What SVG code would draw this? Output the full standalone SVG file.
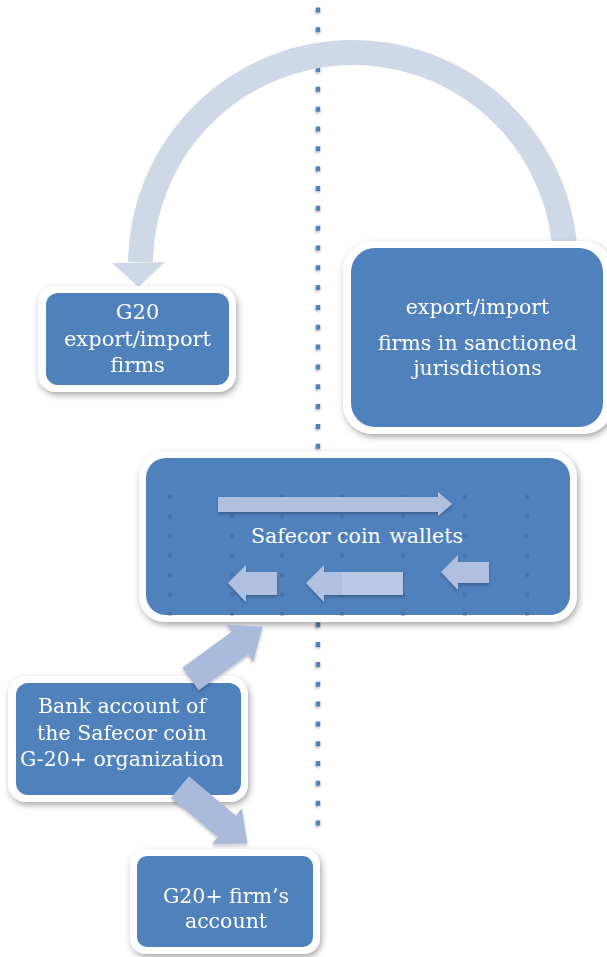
<svg xmlns="http://www.w3.org/2000/svg" width="607" height="957" viewBox="0 0 607 957">
  <defs>
    <filter id="boxShadow" filterUnits="userSpaceOnUse" x="0" y="0" width="607" height="957">
      <feDropShadow dx="1.5" dy="3" stdDeviation="3" flood-color="#000" flood-opacity="0.35"/>
    </filter>
    <filter id="dotShadow" filterUnits="userSpaceOnUse" x="0" y="0" width="607" height="957">
      <feDropShadow dx="-0.5" dy="1.5" stdDeviation="1" flood-color="#000" flood-opacity="0.3"/>
    </filter>
    <filter id="arrowShadow" filterUnits="userSpaceOnUse" x="0" y="0" width="607" height="957">
      <feDropShadow dx="0" dy="2" stdDeviation="1.5" flood-color="#000" flood-opacity="0.25"/>
    </filter>
  </defs>
  <style>
    .frame { fill: #ffffff; }
    .body { fill: #4F81BD; }
    .label { fill: #ffffff; font-family: "DejaVu Serif", "Liberation Serif", serif; font-size: 20.5px; text-anchor: middle; }
    .flow { fill: #A9BADA; }
    .inner { fill: #B0C0DE; }
    .grid { stroke: #2E5A90; stroke-opacity: 0.3; stroke-width: 4; stroke-dasharray: 4 15.5; }
  </style>

  <!-- dotted divider -->
  <line x1="318" y1="7.5" x2="318" y2="826" stroke="#4F81BD" stroke-width="4.5" stroke-dasharray="5 14.83" filter="url(#dotShadow)"/>

  <g id="connectors">
    <!-- big curved arrow from sanctioned firms to G20 firms -->
    <g id="arc-arrow" fill="#CFD8E7">
      <path d="M 564 250 L 564 240 A 212.5 212.5 0 0 0 140.5 262" fill="none" stroke="#CFD8E7" stroke-width="25"/>
      <polygon points="112,263 165,262 138.5,287"/>
    </g>
  </g>

  <g id="node-g20" filter="url(#boxShadow)">
    <rect class="frame" x="38" y="286" width="198" height="106" rx="18"/>
    <rect class="body" x="46" y="293" width="183" height="92" rx="12"/>
    <text class="label" style="font-size:21px"><tspan x="137.5" y="319">G20</tspan><tspan x="137.5" y="346">export/import</tspan><tspan x="137.5" y="372">firms</tspan></text>
  </g>

  <g id="node-sanctioned" filter="url(#boxShadow)">
    <rect class="frame" x="343" y="241" width="270" height="193" rx="30"/>
    <rect class="body" x="351" y="248" width="252" height="179" rx="24"/>
    <text class="label"><tspan x="477.5" y="314">export/import</tspan><tspan x="477.5" y="350">firms in sanctioned</tspan><tspan x="477.5" y="375">jurisdictions</tspan></text>
  </g>

  <g id="node-wallets">
    <g filter="url(#boxShadow)">
      <rect class="frame" x="139" y="451" width="438" height="171" rx="26"/>
      <rect class="body" x="146" y="458" width="424" height="157" rx="20"/>
    </g>
    <g class="grid">
      <line x1="170" y1="495" x2="170" y2="616"/>
      <line x1="232" y1="495" x2="232" y2="616"/>
      <line x1="282" y1="495" x2="282" y2="616"/>
      <line x1="342" y1="495" x2="342" y2="616"/>
      <line x1="403" y1="495" x2="403" y2="616"/>
      <line x1="465" y1="495" x2="465" y2="616"/>
      <line x1="527" y1="495" x2="527" y2="616"/>
    </g>
    <g class="inner" filter="url(#arrowShadow)">
      <polygon points="218,497 438,497 438,492 452,504 438,516 438,512 218,512"/>
      <polygon points="228,583 246,565 246,572 277,572 277,595 246,595 246,602"/>
      <polygon points="306,583 324,565 324,572 403,572 403,595 324,595 324,602"/>
      <polygon points="441,572 458,555 458,562 489,562 489,583 458,583 458,590"/>
    </g>
    <rect x="342" y="572" width="61" height="23" fill="#BAC8E3"/>
    <text class="label"><tspan x="251" y="543" text-anchor="start">Safecor coin</tspan><tspan x="463" y="543" text-anchor="end">wallets</tspan></text>
  </g>

  <g id="node-bank" filter="url(#boxShadow)">
    <rect class="frame" x="8" y="676" width="240" height="126" rx="18"/>
    <rect class="body" x="16" y="683" width="225" height="112" rx="12"/>
    <text class="label"><tspan x="122" y="713">Bank account of</tspan><tspan x="122" y="739.5">the Safecor coin</tspan><tspan x="122" y="766">G-20+ organization</tspan></text>
  </g>

  <g id="node-firm" filter="url(#boxShadow)">
    <rect class="frame" x="130" y="849" width="190" height="105" rx="16"/>
    <rect class="body" x="137" y="856" width="176" height="91" rx="10"/>
    <text class="label"><tspan x="226" y="903">G20+ firm’s</tspan><tspan x="226" y="928">account</tspan></text>
  </g>

  <g id="bank-connectors" class="flow" filter="url(#arrowShadow)">
    <polygon transform="translate(190.5,679) rotate(-36)" points="0,-14 61,-14 61,-23 89,0 61,23 61,14 0,14"/>
    <polygon transform="translate(180,787) rotate(40)" points="0,-14 61,-14 61,-23.5 88,0 61,23.5 61,14 0,14"/>
  </g>
</svg>
